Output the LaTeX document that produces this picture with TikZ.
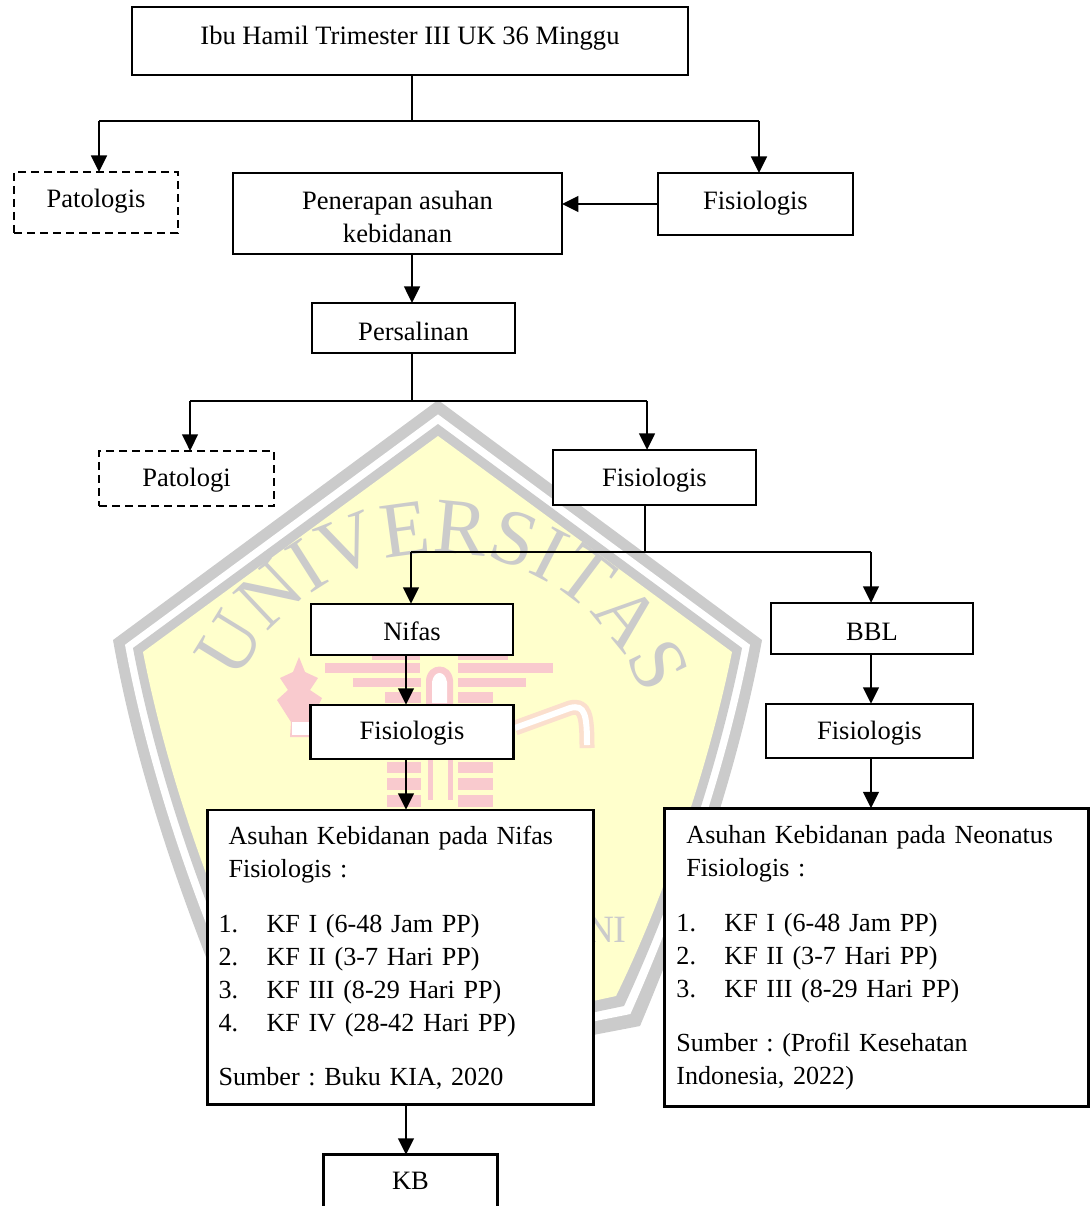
\documentclass[tikz,border=0pt]{standalone}
\usepackage{fontspec}
\setmainfont{Liberation Serif}
\usetikzlibrary{arrows.meta,positioning,decorations.text}
\definecolor{wmgrey}{HTML}{CBCBCB}
\definecolor{wmyellow}{HTML}{FFFFCC}
\definecolor{wmpink}{HTML}{F9CACE}
\tikzset{
    box/.style={draw, fill=white, line width=0.054cm, inner sep=0pt, outer sep=0pt, align=center,
        font=\fontsize{15.1}{18.75}\selectfont},
    dashbox/.style={box, dashed, dash pattern=on 0.16cm off 0.1cm},
    pad/.style 2 args={text height=#1cm, text depth=#2cm},
    listbox/.style={box, align=left, inner xsep=#1cm, font=\fontsize{14.85}{18.75}\selectfont\frenchspacing},
    flow/.style={-{Triangle[length=0.33cm, width=0.31cm]}, line width=0.056cm},
    stem/.style={line width=0.056cm},
    branch/.style={line width=0.03cm},
    brick/.style={fill=wmpink, draw=none}
}
\newcommand{\shieldshape}[1]{(438,{400+1.2*#1}) -- ({762-#1},{640+.4*#1})
    .. controls ({738-#1},770) and ({693-#1},900) .. ({640-.8*#1},{1026-#1}) -- (437,{1065-#1})
    -- ({234+.8*#1},{1026-#1}) .. controls ({181+#1},900) and ({136+#1},770) .. ({113+#1},{640+.4*#1}) -- cycle}

\begin{document}
\begin{tikzpicture}[x=0.02cm, y=-0.02cm]
    \useasboundingbox (0,0) rectangle (1090,1206);
    \clip (0,0) rectangle (1090,1206);

    % watermark
    \foreach \inset/\shade in {0/wmgrey, 12/white, 20/wmgrey, 30/wmyellow}
        \fill[\shade] \shieldshape{\inset};
    \path[decorate, decoration={text along path, text align=center,
        text={|\fontsize{45}{45}\selectfont\color{wmgrey}|UNIVERSITAS}}]
        ({438+219*cos(206)},{772+219*sin(206)}) arc (206:338:219);
    \node[text=wmgrey, font=\fontsize{22}{22}\selectfont, anchor=east] (wmtext) at (633,930) {NI};
    \foreach \xa/\xb/\ya/\yb in {372/420/656/660, 325/420/663/673, 353/421/678/687, 385/421/692/703,
            387/421/762/773, 387/421/778/790, 387/421/795/807,
            458/508/656/660, 458/553/663/673, 458/526/678/687, 458/493/692/703,
            458/493/762/773, 458/493/778/790, 458/493/795/807,
            428/433/760/800, 448/453/760/800}
        \fill[brick] (\xa,\ya) rectangle (\xb,\yb);
    \fill[brick] (426,705) -- (426,680) .. controls (428,662) and (451,662) .. (453,680) -- (453,705) -- cycle;
    \fill[white] (432,703) -- (432,682) .. controls (434,670) and (445,670) .. (447,682) -- (447,703) -- cycle;
    \fill[brick] (299,657) -- (293,672) -- (280,678) -- (288,690) -- (277,700) -- (291,722) -- (290,737) -- (312,737)
        -- (310,722) -- (322,698) -- (310,690) -- (318,678) -- (305,672) -- cycle;
    \fill[white] (292,722) rectangle (310,735);
    \draw[wmpink!60!wmyellow, line width=0.3cm, line join=round] (515,728) -- (570,708) .. controls (585,704) and (587,715) .. (587,748);
    \draw[white, line width=0.12cm] (515,728) -- (570,708) .. controls (585,704) and (587,715) .. (587,745);

    % boxes
    \node[box, minimum width=11.12cm, minimum height=1.36cm, pad={0.76}{0.60}] (top) at (410,41) {Ibu Hamil Trimester III UK 36 Minggu};
    \node[box, minimum width=3.9cm, minimum height=1.24cm, pad={0.74}{0.50}, below=1.96cm of top, xshift=6.91cm] (fisio1) {Fisiologis};
    \node[box, minimum width=6.58cm, minimum height=1.62cm, pad={1.39}{0.23}, left=1.92cm of fisio1, yshift=-0.19cm] (terapan) {Penerapan asuhan\\kebidanan};
    \node[dashbox, minimum width=3.28cm, minimum height=1.22cm, pad={0.72}{0.50}, left=1.1cm of terapan, yshift=0.22cm] (patologis) {Patologis};
    \node[box, minimum width=4.06cm, minimum height=1cm, pad={0.75}{0.25}, below=0.98cm of terapan, xshift=0.32cm] (salin) {Persalinan};
    \node[box, minimum width=4.06cm, minimum height=1.1cm, pad={0.74}{0.36}, below=1.94cm of salin, xshift=4.82cm] (fisio2) {Fisiologis};
    \node[dashbox, minimum width=3.5cm, minimum height=1.1cm, pad={0.72}{0.38}, left=5.58cm of fisio2, yshift=-0.02cm] (patologi) {Patologi};
    \node[box, minimum width=4.04cm, minimum height=1.02cm, pad={0.74}{0.28}, below=1.98cm of fisio2, xshift=-4.85cm] (nifas) {Nifas};
    \node[box, minimum width=4.04cm, minimum height=1.02cm, pad={0.76}{0.26}, right=5.16cm of nifas, yshift=0.02cm] (bbl) {BBL};
    \node[box, minimum width=4.06cm, minimum height=1.08cm, pad={0.70}{0.38}, below=1cm of nifas] (fisio3) {Fisiologis};
    \node[box, minimum width=4.14cm, minimum height=1.08cm, pad={0.72}{0.36}, below=1cm of bbl, xshift=-0.05cm] (fisio4) {Fisiologis};
    \node[listbox=0.22, text width=7.28cm, minimum height=5.9cm, pad={0.70}{5.2}, below=1.02cm of fisio3, xshift=-0.23cm] (asnifas) {%
        \hspace*{0.2cm}Asuhan Kebidanan pada Nifas\\
        \hspace*{0.2cm}Fisiologis :\\[0.44cm]
        \makebox[0.96cm][l]{1.}KF I (6-48 Jam PP)\\
        \makebox[0.96cm][l]{2.}KF II (3-7 Hari PP)\\
        \makebox[0.96cm][l]{3.}KF III (8-29 Hari PP)\\
        \makebox[0.96cm][l]{4.}KF IV (28-42 Hari PP)\\[0.42cm]
        Sumber : Buku KIA, 2020};
    \node[listbox=0.24, text width=8cm, minimum height=5.96cm, pad={0.70}{5.26}, right=1.42cm of asnifas] (asbayi) {%
        \hspace*{0.2cm}Asuhan Kebidanan pada Neonatus\\
        \hspace*{0.2cm}Fisiologis :\\[0.44cm]
        \makebox[0.96cm][l]{1.}KF I (6-48 Jam PP)\\
        \makebox[0.96cm][l]{2.}KF II (3-7 Hari PP)\\
        \makebox[0.96cm][l]{3.}KF III (8-29 Hari PP)\\[0.42cm]
        Sumber : (Profil Kesehatan\\
        Indonesia, 2022)};
    \node[box, minimum width=3.48cm, minimum height=1.3cm, pad={0.70}{0.60}, below=1cm of asnifas, xshift=0.2cm] (kb) {KB};

    % split points
    \coordinate (split1) at (412,121);
    \coordinate (left1) at (99,121);
    \coordinate (right1) at (759,121);
    \coordinate (split2) at (412,401);
    \coordinate (left2) at (190,401);
    \coordinate (right2) at (647,401);
    \coordinate (split3) at (645,552);
    \coordinate (left3) at (411,552);
    \coordinate (right3) at (871,552);
    \coordinate (midline) at (406,700);

    % connectors
    \draw[stem] (split1 |- top.south) -- (split1);
    \draw[branch] (left1) -- (right1);
    \draw[flow] (left1) -- (left1 |- patologis.north);
    \draw[flow] (right1) -- (right1 |- fisio1.north);
    \draw[flow] (fisio1.west) -- (fisio1.west -| terapan.east);
    \draw[flow] (split1 |- terapan.south) -- (split1 |- salin.north);
    \draw[stem] (split2 |- salin.south) -- (split2);
    \draw[branch] (left2) -- (right2);
    \draw[flow] (left2) -- (left2 |- patologi.north);
    \draw[flow] (right2) -- (right2 |- fisio2.north);
    \draw[stem] (split3 |- fisio2.south) -- (split3);
    \draw[branch] (left3) -- (right3);
    \draw[flow] (left3) -- (left3 |- nifas.north);
    \draw[flow] (right3) -- (right3 |- bbl.north);
    \draw[flow] (midline |- nifas.south) -- (midline |- fisio3.north);
    \draw[flow] (right3 |- bbl.south) -- (right3 |- fisio4.north);
    \draw[flow] (midline |- fisio3.south) -- (midline |- asnifas.north);
    \draw[flow] (right3 |- fisio4.south) -- (right3 |- asbayi.north);
    \draw[flow] (midline |- asnifas.south) -- (midline |- kb.north);
\end{tikzpicture}
\end{document}
